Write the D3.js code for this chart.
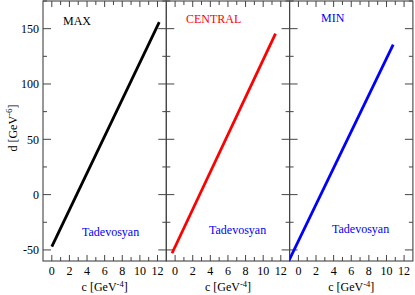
<!DOCTYPE html>
<html><head><meta charset="utf-8">
<script src="https://cdn.jsdelivr.net/npm/d3@7"></script>
<style>body{margin:0;background:#fff}svg{display:block}svg text, svg tspan{font-family:'Liberation Serif',serif !important}</style>
</head><body>
<svg id="c" width="415" height="295"></svg>
<script>
const panelNames = ["MAX", "CENTRAL", "MIN"];
const panelColors = ["#000000", "#ff0000", "#0000ff"];
const credit = "Tadevosyan";
// band end points (c, d) for each panel
const maxC = [0, 12.2], maxD = [-47, 156];
const centralC = [-0.35, 11.4], centralD = [-53, 145.5];
const minC = [-1.1, 10.76], minD = [-60, 135.5];
const xTicks = [0, 2, 4, 6, 8, 10, 12];
const yTicks = [-50, 0, 50, 100, 150];
const xDomain = [-1, 13], yDomain = [-60, 175];

const lines = [
  maxC.map((c, i) => ({c, d: maxD[i]})),
  centralC.map((c, i) => ({c, d: centralD[i]})),
  minC.map((c, i) => ({c, d: minD[i]}))
];

const svg = d3.select("#c");
const pLeft = 43, pTop = 1, pBottom = 261, pw = 123.3;
const y = d3.scaleLinear().domain(yDomain).range([pBottom, pTop]);
const frame = "#444";
const fs = 12;
const FF = "'Liberation Serif', serif";
function txt(sel, size) {
  return sel.style("font-family", FF, "important").style("font-size", size + "px");
}

svg.append("defs").selectAll("clipPath").data(panelNames).join("clipPath")
  .attr("id", (d, i) => "clip" + i)
  .append("rect").attr("x", (d, i) => pLeft + i * pw).attr("y", pTop)
  .attr("width", pw).attr("height", pBottom - pTop);

panelNames.forEach((name, i) => {
  const x0 = pLeft + i * pw, x1 = x0 + pw;
  const x = d3.scaleLinear().domain(xDomain).range([x0, x1]);
  const g = svg.append("g");
  const xMinor = d3.range(0, 13, 1);
  g.selectAll(".xb").data(xMinor).join("line")
    .attr("x1", d => x(d)).attr("x2", d => x(d))
    .attr("y1", pBottom).attr("y2", d => pBottom - (d % 2 === 0 ? 6 : 4))
    .attr("stroke", frame);
  g.selectAll(".xt").data(xMinor).join("line")
    .attr("x1", d => x(d)).attr("x2", d => x(d))
    .attr("y1", pTop).attr("y2", d => pTop + (d % 2 === 0 ? 6 : 4))
    .attr("stroke", frame);
  const yMinor = d3.range(-50, 176, 25);
  g.selectAll(".yl").data(yMinor).join("line")
    .attr("x1", x0).attr("x2", d => x0 + (d % 50 === 0 ? 8 : 4))
    .attr("y1", d => y(d)).attr("y2", d => y(d)).attr("stroke", frame);
  g.selectAll(".yr").data(yMinor).join("line")
    .attr("x1", x1).attr("x2", d => x1 - (d % 50 === 0 ? 8 : 4))
    .attr("y1", d => y(d)).attr("y2", d => y(d)).attr("stroke", frame);
  g.append("rect").attr("x", x0).attr("y", pTop).attr("width", pw).attr("height", pBottom - pTop)
    .attr("fill", "none").attr("stroke", frame).attr("stroke-width", 1.1);
  txt(g.selectAll(".xl").data(xTicks).join("text")
    .attr("x", d => x(d)).attr("y", 274.5).attr("text-anchor", "middle"), fs).text(d => d);
  const xt = txt(g.append("text").attr("x", (x0 + x1) / 2).attr("y", 291)
    .attr("text-anchor", "middle"), fs);
  xt.append("tspan").text("c [GeV");
  xt.append("tspan").attr("dy", -4.5).style("font-size", "8.5px").text("-4");
  xt.append("tspan").attr("dy", 4.5).text("]");
  svg.append("path").datum(lines[i]).attr("clip-path", `url(#clip${i})`)
    .attr("d", d3.line().x(p => x(p.c)).y(p => y(p.d)))
    .attr("stroke", panelColors[i]).attr("stroke-width", 2.8).attr("fill", "none");
  const titleX = [63, 186, 321], titleY = [25, 23, 22];
  txt(svg.append("text").attr("x", titleX[i]).attr("y", titleY[i]), fs)
    .attr("fill", panelColors[i]).text(name);
  const credX = [82, 209, 332], credY = [236, 234, 233];
  txt(svg.append("text").attr("x", credX[i]).attr("y", credY[i]), fs)
    .attr("fill", "#0000ff").text(credit);
});

txt(svg.selectAll(".ylab").data(yTicks).join("text")
  .attr("x", 39).attr("y", d => y(d) + 4.5).attr("text-anchor", "end"), fs).text(d => d);

const yt = txt(svg.append("text").attr("transform", "translate(17,128) rotate(-90)")
  .attr("text-anchor", "middle"), fs);
yt.append("tspan").text("d [GeV");
yt.append("tspan").attr("dy", -5).style("font-size", "9px").text("-6");
yt.append("tspan").attr("dy", 5).text("]");
</script>
</body></html>
